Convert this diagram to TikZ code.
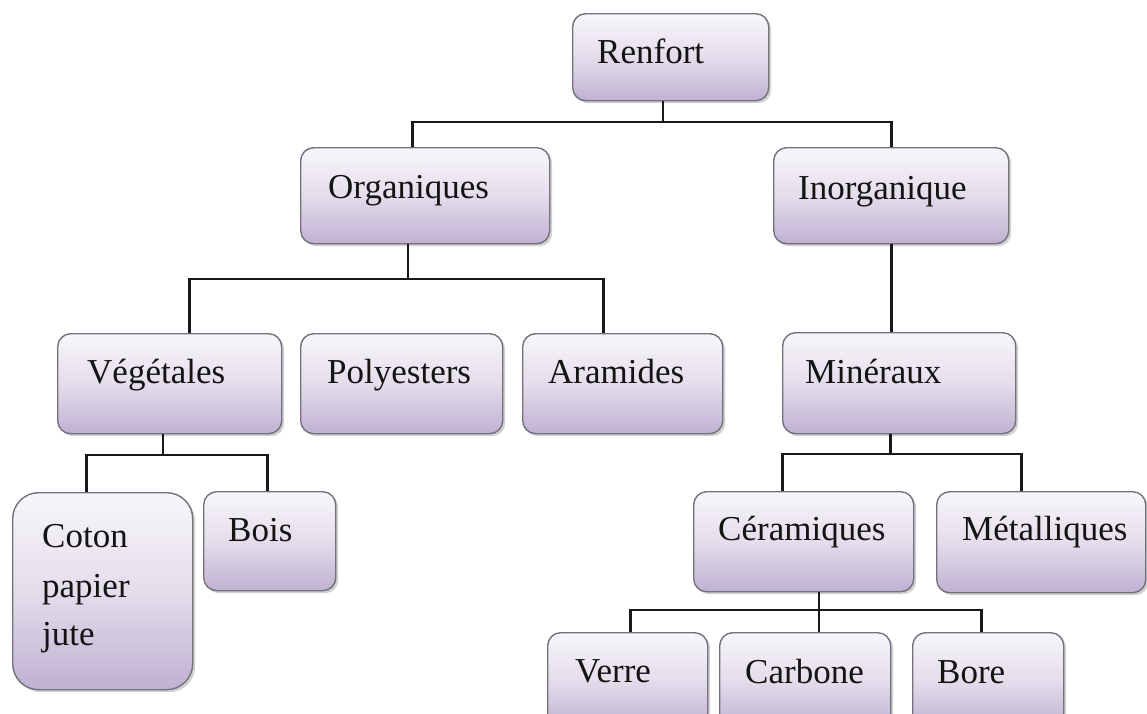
\documentclass[tikz,border=0pt]{standalone}
\usepackage{fontspec}
\setmainfont{Liberation Serif}
\usetikzlibrary{shadows,calc}

\definecolor{lavtop}{HTML}{F8F6FA}
\definecolor{lavmid}{HTML}{E4DDEB}
\definecolor{lavbot}{HTML}{BFB1D2}
\definecolor{boxline}{HTML}{74717C}

\tikzset{
  catbox/.style={draw=boxline, line width=1.4pt, rounded corners=13pt,
    top color=lavtop, bottom color=lavbot, middle color=lavmid,
    drop shadow={shadow xshift=2.5pt, shadow yshift=-2.5pt, opacity=.3, fill=black!60},
    inner sep=0pt, anchor=north west},
  lbl/.style={anchor=base west, inner sep=0pt, text=black!92, font=\fontsize{35}{49}\selectfont},
  link/.style={draw=black!90, line width=2.6pt},
}

% a box from its top-left corner, with its width and height in px
\newcommand{\catbox}[6][]{%
  \node[catbox, #1, minimum width=#4pt, minimum height=#5pt] (#2) at (#3) {};
}

\begin{document}
\begin{tikzpicture}[x=1pt, y=-1pt]
\useasboundingbox (0,0) rectangle (1147,713);
\clip (0,0) rectangle (1147,713);
\fill[white] (0,0) rectangle (1147,713);

% ---- boxes ----
\catbox{renfort}{572,13}{196}{87}{}
\catbox{organ}{300,147}{249}{96}{}
\catbox{inorg}{773,147}{235}{96}{}
\catbox{veget}{57,333}{224}{100}{}
\catbox{polye}{300,333}{202}{100}{}
\catbox{arami}{522,333}{200}{100}{}
\catbox{miner}{782,332}{233}{101}{}
\catbox[rounded corners=26pt]{coton}{12,492}{180}{197}{}
\catbox{bois}{203,491}{132}{99}{}
\catbox{ceram}{693,491}{220}{100}{}
\catbox{metal}{936,491}{209}{101}{}
\catbox{verre}{547,632}{160}{95}{}
\catbox{carbo}{719,632}{171}{95}{}
\catbox{bore}{912,632}{151}{95}{}

% ---- labels ----
\node[lbl] (t-renfort) at (597,63)  {Renfort};
\node[lbl] (t-organ)   at (328,198) {Organiques};
\node[lbl] (t-inorg)   at (798,199) {Inorganique};
\node[lbl] (t-veget)   at (87,383)  {Végétales};
\node[lbl] (t-polye)   at (327,383) {Polyesters};
\node[lbl] (t-arami)   at (548,383) {Aramides};
\node[lbl] (t-miner)   at (805,383) {Minéraux};
\node[lbl] (t-coton)   at (42,547)  {Coton};
\node[lbl] (t-papier)  at (42,597)  {papier};
\node[lbl] (t-jute)    at (42,645)  {jute};
\node[lbl] (t-bois)    at (228,541) {Bois};
\node[lbl] (t-ceram)   at (718,540) {Céramiques};
\node[lbl] (t-metal)   at (962,540) {Métalliques};
\node[lbl] (t-verre)   at (575,682) {Verre};
\node[lbl] (t-carbo)   at (745,683) {Carbone};
\node[lbl] (t-bore)    at (937,683) {Bore};

% ---- junction points ----
\coordinate (j0) at (663,122);
\coordinate (j1) at (408,279);
\coordinate (j2) at (163,455);
\coordinate (j3) at (890.5,454);
\coordinate (j4) at (819,610);

% ---- connectors: stems from parents, then branches to children ----
\draw[link] (j0 |- renfort.south) -- (j0);
\draw[link] ([xshift=-12.5pt]organ.north) |- (j0) -| (inorg.north);

\draw[link] (j1 |- organ.south) -- (j1);
\draw[link] ([xshift=20pt]veget.north) |- (j1) -| ([xshift=-19pt]arami.north);

\draw[link] (inorg.south) -- (inorg.south |- miner.north);

\draw[link] (j2 |- veget.south) -- (j2);
\draw[link] ([xshift=-16pt]coton.north) |- (j2) -| ([xshift=-2pt]bois.north);

\draw[link] (j3 |- miner.south) -- (j3);
\draw[link] ([xshift=-21pt]ceram.north) |- (j3) -| ([xshift=-19.5pt]metal.north);

\draw[link] (j4 |- ceram.south) -- (j4) -- (j4 |- carbo.north);
\draw[link] ([xshift=3pt]verre.north) |- (j4) -| ([xshift=-6.5pt]bore.north);
\end{tikzpicture}
\end{document}
